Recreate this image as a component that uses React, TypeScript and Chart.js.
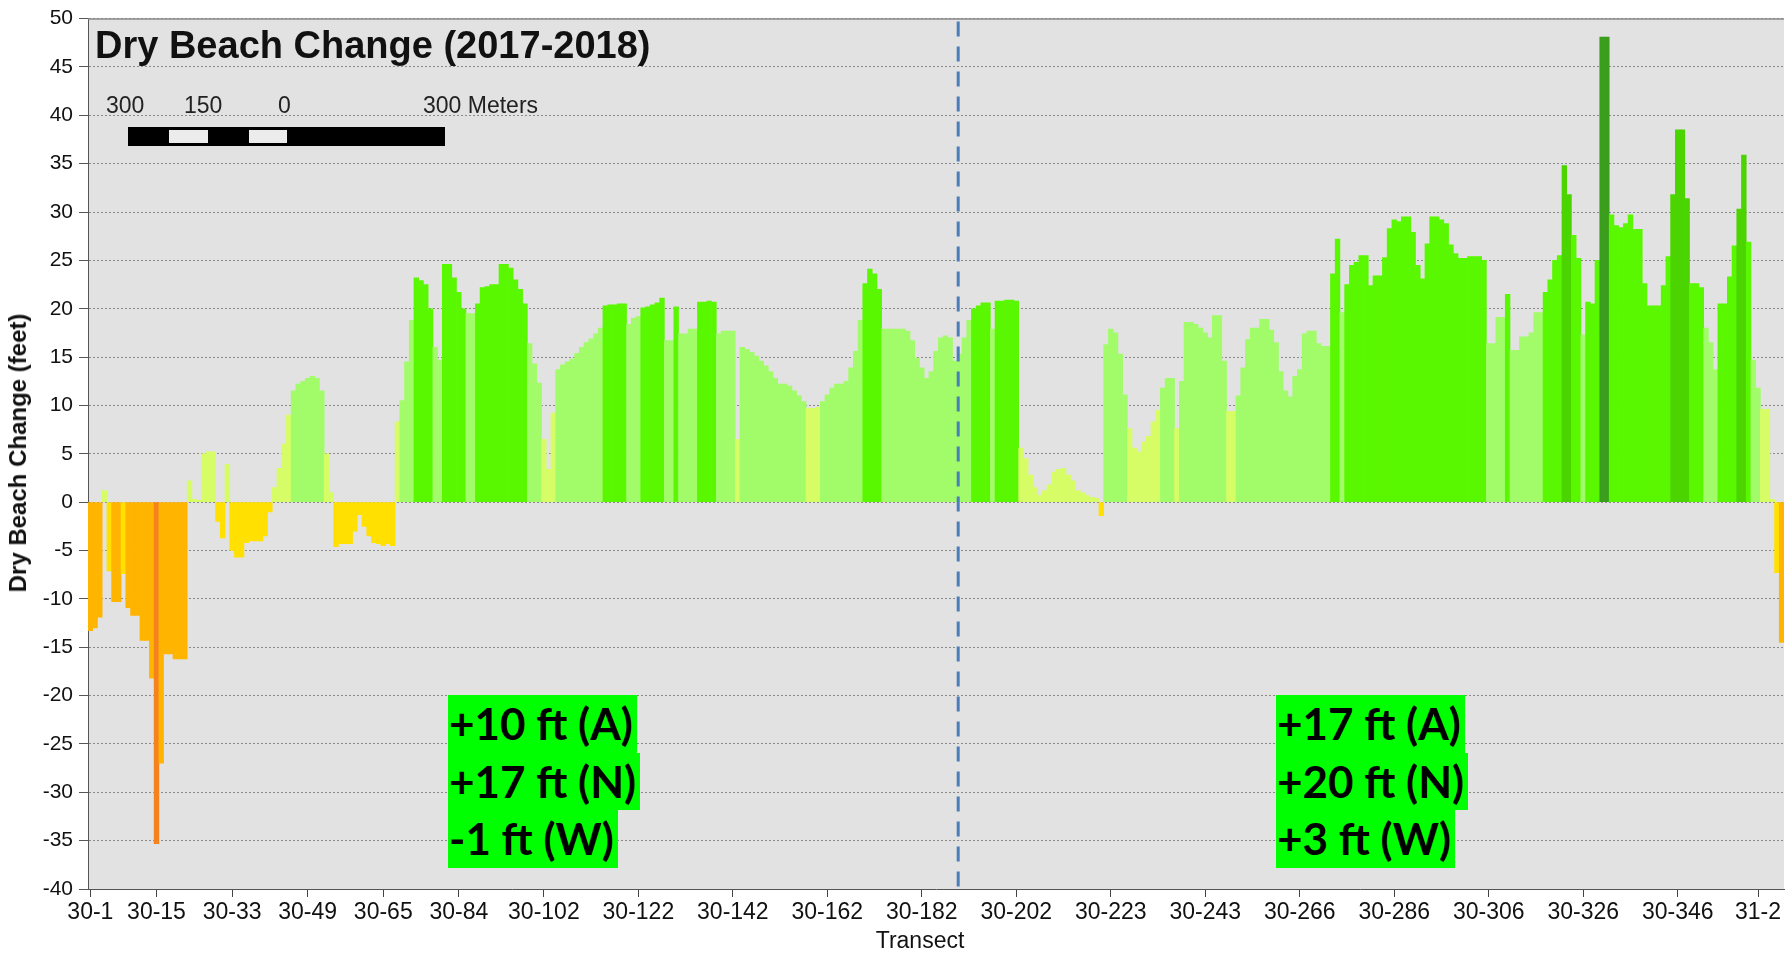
import React, { useEffect, useRef } from 'react';
import { Chart, registerables } from 'chart.js';

Chart.register(...registerables);

// Dry beach change (feet) per transect, left to right
const valuesA = [
  -13.3, -13.0, -11.9, 1.2, -7.1, -10.3, -10.3, -7.4, -10.9, -11.7,
  -11.7, -14.3, -14.3, -18.2, -35.3, -27.0, -15.7, -15.7, -16.2, -16.2,
  -16.2, 2.2, 0.3, 0.2, 5.0, 5.2, 5.2, -2.0, -3.7, 3.9,
  -5.0, -5.7, -5.7, -4.2, -4.0, -4.0, -4.0, -3.5, -1.0, 1.5,
  3.5, 6.0, 9.0, 11.5, 12.2, 12.5, 12.8, 13.0, 12.8, 11.5,
  5.0, 1.0, -4.6, -4.3, -4.3, -4.3, -3.0, -1.3, -2.5, -3.5,
];
const valuesB = [
  -4.2, -4.3, -4.5, -4.3, -4.5, 8.3, 10.5, 14.5, 18.8, 23.2,
  22.9, 22.5, 20.0, 16.0, 14.7, 24.6, 24.6, 23.2, 21.7, 20.0,
  19.5, 19.5, 20.5, 22.2, 22.3, 22.5, 22.5, 24.6, 24.6, 24.2,
  23.0, 22.0, 20.5, 16.4, 14.3, 12.3, 6.5, 3.4, 9.2, 13.7,
  14.2, 14.5, 14.8, 15.4, 16.0, 16.5, 16.9, 17.4, 18.0, 20.3,
  20.4, 20.4, 20.5, 20.5, 18.4, 19.0, 19.2, 20.1, 20.2, 20.4,
];
const valuesC = [
  20.6, 21.1, 16.7, 16.7, 20.2, 17.4, 17.4, 17.9, 17.9, 20.7,
  20.7, 20.8, 20.7, 17.4, 17.7, 17.7, 17.7, 6.5, 16.0, 15.8,
  15.5, 15.1, 14.6, 14.1, 13.5, 12.8, 12.2, 12.2, 12.0, 11.5,
  11.0, 10.4, 9.7, 9.7, 9.8, 10.4, 11.1, 11.8, 12.2, 12.2,
  12.5, 13.9, 15.6, 18.8, 22.6, 24.1, 23.6, 22.0, 17.9, 17.9,
  17.9, 17.9, 17.9, 17.7, 16.7, 14.9, 13.9, 12.8, 13.5, 15.6,
];
const valuesD = [
  17.0, 17.2, 17.0, 14.6, 15.3, 17.0, 18.8, 20.0, 20.3, 20.6,
  20.6, 17.9, 20.8, 20.8, 20.9, 20.9, 20.8, 5.6, 4.5, 2.8,
  1.5, 0.7, 1.2, 1.8, 3.1, 3.4, 3.5, 2.8, 2.2, 1.2,
  1.0, 0.7, 0.5, 0.4, -1.4, 16.3, 17.9, 17.5, 15.3, 11.1,
  7.6, 5.6, 5.2, 6.2, 6.8, 8.3, 9.5, 11.8, 12.8, 12.8,
  7.6, 12.5, 18.6, 18.6, 18.4, 18.0, 17.5, 17.0, 19.3, 19.3,
];
const valuesE = [
  14.6, 9.4, 9.4, 11.0, 13.9, 16.8, 18.0, 18.0, 18.9, 18.9,
  17.8, 16.5, 13.5, 11.5, 10.9, 13.0, 13.7, 17.4, 17.7, 17.7,
  16.4, 16.1, 16.1, 23.6, 27.2, 19.6, 22.5, 24.5, 24.8, 25.5,
  25.5, 22.4, 23.4, 23.4, 25.3, 28.3, 29.2, 29.0, 29.5, 29.5,
  27.9, 24.5, 23.1, 26.7, 29.5, 29.5, 29.2, 28.8, 26.6, 25.7,
  25.2, 25.2, 25.4, 25.4, 25.4, 25.0, 16.4, 16.4, 19.1, 19.1,
];
const valuesF = [
  21.5, 15.7, 15.7, 17.1, 17.1, 17.5, 19.6, 19.6, 21.7, 23.0,
  25.0, 25.5, 34.8, 31.8, 27.6, 25.2, 17.3, 20.7, 20.5, 25.0,
  48.1, 48.1, 29.7, 28.6, 28.4, 28.8, 29.7, 28.2, 28.2, 22.6,
  20.3, 20.3, 20.3, 22.4, 25.4, 31.8, 38.5, 38.5, 31.4, 22.6,
  22.6, 22.2, 18.0, 16.5, 13.7, 20.5, 20.5, 23.3, 26.5, 30.3,
  35.9, 26.9, 14.7, 11.8, 9.6, 9.6, 0.3, -7.3, -14.5,
];

// Transect tick labels and the bar (index) each one sits on
const tickLabels = [
  '30-1', '30-15', '30-33', '30-49', '30-65', '30-84', '30-102', '30-122', '30-142', '30-162',
  '30-182', '30-202', '30-223', '30-243', '30-266', '30-286', '30-306', '30-326', '30-346', '31-2',
];
const tickBars = [0, 14, 30, 46, 62, 78, 96, 116, 136, 156, 176, 196, 216, 236, 256, 276, 296, 316, 336, 353];

// Dashed divider between the two reaches (between bars 183 and 184)
const dividerBar = 183;
const dividerFrac = 0.7;

const yMin = -40;
const yMax = 50;
const yStep = 5;

const titleText = 'Dry Beach Change (2017-2018)';
const yTitle = 'Dry Beach Change (feet)';
const xTitle = 'Transect';
const scaleLabels = ['300', '150', '0', '300 Meters'];
const leftNotes = ['+10 ft (A)', '+17 ft (N)', '-1 ft (W)'];
const rightNotes = ['+17 ft (A)', '+20 ft (N)', '+3 ft (W)'];

const values = [...valuesA, ...valuesB, ...valuesC, ...valuesD, ...valuesE, ...valuesF];
const categories = values.map((_, i) => {
  const k = tickBars.indexOf(i);
  return k >= 0 ? tickLabels[k] : '';
});

function barColor(v: number): string {
  if (v >= 40) return '#3a9e1c';
  if (v >= 30) return '#4bd400';
  if (v >= 20) return '#5af800';
  if (v >= 10) return '#a2fc6a';
  if (v >= 0) return '#d6fd66';
  if (v > -10) return '#ffe000';
  if (v > -30) return '#ffb400';
  return '#f4821e';
}

const FONT = '"Liberation Sans", Arial, sans-serif';

const plotPlugin = {
  id: 'plotDecor',
  beforeDraw(chart: any) {
    const { ctx, chartArea: a } = chart;
    ctx.save();
    ctx.fillStyle = '#e2e2e2';
    ctx.fillRect(a.left, a.top, a.right - a.left, a.bottom - a.top);
    ctx.restore();
  },
  afterDatasetsDraw(chart: any) {
    const { ctx, chartArea: a } = chart;
    const xs = chart.scales.x;
    const p0 = xs.getPixelForValue(dividerBar);
    const p1 = xs.getPixelForValue(dividerBar + 1);
    const px = p0 + dividerFrac * (p1 - p0);
    ctx.save();
    ctx.strokeStyle = '#4a7ebb';
    ctx.lineWidth = 3;
    ctx.setLineDash([15, 10]);
    ctx.beginPath();
    ctx.moveTo(px, a.top + 3);
    ctx.lineTo(px, a.bottom);
    ctx.stroke();
    ctx.restore();
  },
  afterDraw(chart: any) {
    const { ctx, chartArea: a } = chart;
    ctx.save();
    ctx.strokeStyle = '#8a8a8a';
    ctx.lineWidth = 1.5;
    ctx.beginPath();
    ctx.moveTo(a.left, a.top + 0.5);
    ctx.lineTo(a.right, a.top + 0.5);
    ctx.stroke();
    ctx.restore();
  },
};

export default function App() {
  const ref = useRef<HTMLCanvasElement | null>(null);

  useEffect(() => {
    if (!ref.current) return;
    const chart = new Chart(ref.current, {
      type: 'bar',
      data: {
        labels: categories,
        datasets: [
          {
            data: values,
            backgroundColor: values.map(barColor),
            borderWidth: 0,
            barPercentage: 1,
            categoryPercentage: 1,
          },
        ],
      },
      options: {
        animation: false,
        responsive: false,
        maintainAspectRatio: false,
        layout: { padding: { top: 17, right: 3, bottom: 0, left: 0 } },
        plugins: {
          legend: { display: false },
          tooltip: { enabled: false },
          title: { display: false },
        },
        scales: {
          x: {
            type: 'category',
            offset: true,
            grid: {
              display: true,
              drawOnChartArea: false,
              drawTicks: true,
              offset: false,
              tickLength: 8,
              tickWidth: 1,
              tickColor: (c: any) => (categories[c.index] ? '#444' : 'rgba(0,0,0,0)'),
            },
            border: { display: true, color: '#555', width: 1 },
            ticks: {
              autoSkip: false,
              maxRotation: 0,
              minRotation: 0,
              padding: 2,
              color: '#111',
              font: { family: FONT, size: 23 },
              callback: (_v: any, i: number) => categories[i],
            },
            afterFit: (s: any) => {
              s.height = 70;
            },
          },
          y: {
            type: 'linear',
            min: yMin,
            max: yMax,
            grid: {
              color: '#8a8a8a',
              lineWidth: 1,
              drawTicks: true,
              tickLength: 9,
              tickColor: '#555',
              tickBorderDash: [],
            },
            border: { display: true, color: '#555', width: 1, dash: [2, 2] },
            ticks: {
              stepSize: yStep,
              padding: 6,
              color: '#111',
              font: { family: FONT, size: 21 },
            },
            afterFit: (s: any) => {
              s.width = 88;
            },
          },
        },
      },
      plugins: [plotPlugin],
    } as any);
    return () => chart.destroy();
  }, []);

  const noteLine = (t: string) => (
    <div
      key={t}
      style={{
        display: 'inline-block',
        background: '#00ff00',
        color: '#000',
        fontFamily: 'Lato, "Open Sans", sans-serif',
        fontWeight: 700,
        fontSize: 44,
        lineHeight: '57.5px',
        height: 57.5,
        padding: '0 4px 0 1px',
        whiteSpace: 'nowrap',
      }}
    >
      {t}
    </div>
  );

  const scaleLabelLeft = [106, 184, 278, 423];

  return (
    <div
      style={{
        position: 'fixed',
        left: 0,
        top: 0,
        width: 1787,
        height: 959,
        background: '#fff',
        overflow: 'hidden',
      }}
    >
      <canvas ref={ref} width={1787} height={959} style={{ display: 'block' }} />

      {/* chart title */}
      <div
        style={{
          position: 'absolute',
          left: 95,
          top: 26,
          fontFamily: FONT,
          fontWeight: 700,
          fontSize: 38,
          lineHeight: '38px',
          color: '#111',
          whiteSpace: 'nowrap',
        }}
      >
        {titleText}
      </div>

      {/* scale bar labels */}
      {scaleLabels.map((t, i) => (
        <div
          key={t + i}
          style={{
            position: 'absolute',
            left: scaleLabelLeft[i],
            top: 94,
            fontFamily: FONT,
            fontSize: 23,
            lineHeight: '23px',
            color: '#222',
            whiteSpace: 'nowrap',
          }}
        >
          {t}
        </div>
      ))}
      {/* scale bar */}
      <div style={{ position: 'absolute', left: 128, top: 127, width: 317, height: 19, background: '#000' }} />
      <div style={{ position: 'absolute', left: 169, top: 130, width: 39, height: 13, background: '#ececec' }} />
      <div style={{ position: 'absolute', left: 249, top: 130, width: 38, height: 13, background: '#ececec' }} />

      {/* y axis title */}
      <div
        style={{
          position: 'absolute',
          left: 18,
          top: 453,
          transform: 'translate(-50%, -50%) rotate(-90deg)',
          fontFamily: FONT,
          fontWeight: 700,
          fontSize: 24,
          lineHeight: '24px',
          color: '#111',
          whiteSpace: 'nowrap',
        }}
      >
        {yTitle}
      </div>

      {/* x axis title */}
      <div
        style={{
          position: 'absolute',
          left: 920,
          top: 940,
          transform: 'translate(-50%, -50%)',
          fontFamily: FONT,
          fontSize: 23,
          lineHeight: '23px',
          color: '#111',
          whiteSpace: 'nowrap',
        }}
      >
        {xTitle}
      </div>

      {/* reach summaries */}
      <div style={{ position: 'absolute', left: 448, top: 695, display: 'flex', flexDirection: 'column', alignItems: 'flex-start' }}>
        {leftNotes.map(noteLine)}
      </div>
      <div style={{ position: 'absolute', left: 1276, top: 695, display: 'flex', flexDirection: 'column', alignItems: 'flex-start' }}>
        {rightNotes.map(noteLine)}
      </div>
    </div>
  );
}
